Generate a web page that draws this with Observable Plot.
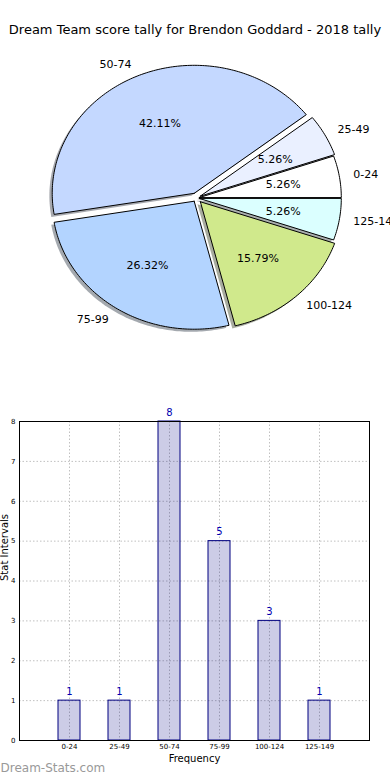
<!DOCTYPE html>
<html><head><meta charset="utf-8">
<script src="https://cdn.jsdelivr.net/npm/d3@7"></script>
<script src="https://cdn.jsdelivr.net/npm/@observablehq/plot@0.6"></script>
<style>
html,body{margin:0;padding:0;background:#fff;overflow:hidden;width:390px;height:780px;}
#title{box-sizing:border-box;height:50px;padding-top:22px;line-height:16px;font-family:"DejaVu Sans";font-size:13px;text-align:center;white-space:nowrap;color:#000;}
#pie svg,#bar svg{display:block;}
</style></head><body>
<div id="title">Dream Team score tally for Brendon Goddard - 2018 tally</div>
<div id="pie"></div>
<div id="bar"></div>
<script>
// ---- data ----
const categories = ["0-24", "25-49", "50-74", "75-99", "100-124", "125-149"];
const counts = [1, 1, 8, 5, 3, 1];
const sliceColors = ["#ffffff", "#eaf0ff", "#c4d8ff", "#b3d4ff", "#d0e98c", "#dbffff"];
const explode = [0.02, 0.03, 0.04, 0.03, 0.04, 0.02];
const yTicks = [0, 1, 2, 3, 4, 5, 6, 7, 8];

// ---- pie ----
const total = d3.sum(counts);
const W = 390, H = 340, CX = 196, CY = 147.5, PX = 142, PY = 128;
let acc = 0;
const slices = counts.map((v, i) => {
  const a0 = acc, a1 = acc + v / total * 2 * Math.PI;
  acc = a1;
  const mid = (a0 + a1) / 2;
  return {i, v, cat: categories[i], a0, a1, mid,
    ox: explode[i] * Math.cos(mid), oy: explode[i] * Math.sin(mid),
    pct: (v / total * 100).toFixed(2) + "%"};
});
function slicePts(s, dx, dy) {
  const ox = s.ox + dx, oy = s.oy + dy;
  const pts = [{x: ox, y: oy}];
  const n = Math.max(4, Math.ceil((s.a1 - s.a0) / (Math.PI / 180)));
  for (let k = 0; k <= n; k++) {
    const a = s.a0 + (s.a1 - s.a0) * k / n;
    pts.push({x: ox + Math.cos(a), y: oy + Math.sin(a)});
  }
  pts.push({x: ox, y: oy});
  return pts;
}
function shadowColor(c) {
  const col = d3.rgb(c);
  return d3.rgb(col.r * 0.3, col.g * 0.3, col.b * 0.3).formatHex();
}
const shadowMarks = slices.map(s => Plot.line(slicePts(s, -0.02, -0.02), {
  x: "x", y: "y", fill: shadowColor(sliceColors[s.i]), fillOpacity: 0.45, stroke: "none"}));
const wedgeMarks = slices.map(s => Plot.line(slicePts(s, 0, 0), {
  x: "x", y: "y", fill: sliceColors[s.i], stroke: "black", strokeWidth: 1, strokeLinejoin: "miter"}));
const labelData = slices.map(s => ({cat: s.cat, pct: s.pct,
  lx: s.ox + 1.1 * Math.cos(s.mid), ly: s.oy + 1.1 * Math.sin(s.mid),
  px: s.ox + 0.6 * Math.cos(s.mid), py: s.oy + 0.6 * Math.sin(s.mid)}));

const pie = Plot.plot({
  width: W, height: H, margin: 0,
  x: {domain: [-CX / PX, (W - CX) / PX], axis: null},
  y: {domain: [-(H - CY) / PY, CY / PY], axis: null},
  style: {fontFamily: "DejaVu Sans", fontSize: "11px", background: "white", overflow: "hidden"},
  marks: [
    ...shadowMarks,
    ...wedgeMarks,
    Plot.text(labelData.filter(d => d.lx > 0), {x: "lx", y: "ly", text: "cat", textAnchor: "start", fill: "black"}),
    Plot.text(labelData.filter(d => d.lx <= 0), {x: "lx", y: "ly", text: "cat", textAnchor: "end", fill: "black"}),
    Plot.text(labelData, {x: "px", y: "py", text: "pct", fill: "black"})
  ]
});
document.getElementById("pie").appendChild(pie);

// ---- bar ----
const barData = categories.map((c, i) => ({cat: c, count: counts[i]}));
const bar = Plot.plot({
  width: 390, height: 390, marginTop: 31, marginBottom: 40, marginLeft: 19, marginRight: 21,
  x: {type: "band", domain: categories, paddingInner: 0.55, paddingOuter: 0.775, align: 0.5},
  y: {domain: [0, 8]},
  style: {fontFamily: "DejaVu Sans", fontSize: "7px", background: "white", overflow: "visible"},
  marks: [
    Plot.gridX({stroke: "#c0c0c0", strokeOpacity: 1, strokeDasharray: "1.5,2"}),
    Plot.gridY(yTicks, {stroke: "#c0c0c0", strokeOpacity: 1, strokeDasharray: "1.5,2"}),
    Plot.barY(barData, {x: "cat", y: "count", fill: "#000080", fillOpacity: 0.2, stroke: "#000080", strokeWidth: 1}),
    Plot.text(barData, {x: "cat", y: "count", text: d => String(d.count), dy: -9, fill: "#0000b0", fontSize: 10}),
    Plot.axisY(yTicks, {tickSize: 0, tickPadding: 4, label: null, fill: "black"}),
    Plot.axisX({tickSize: 0, tickPadding: 4, label: null, fill: "black"}),
    Plot.frame({stroke: "black", strokeWidth: 1}),
    Plot.text(["Frequency"], {frameAnchor: "bottom", dy: 21, fontSize: 10, fill: "black"}),
    Plot.text(["Stat Intervals"], {frameAnchor: "left", dx: -15, rotate: -90, fontSize: 10, fill: "black"}),
    Plot.text(["Dream-Stats.com"], {frameAnchor: "bottom-left", dx: -19, dy: 31, textAnchor: "start", fontSize: 12, fill: "#999999"})
  ]
});
document.getElementById("bar").appendChild(bar);
</script>
</body></html>
